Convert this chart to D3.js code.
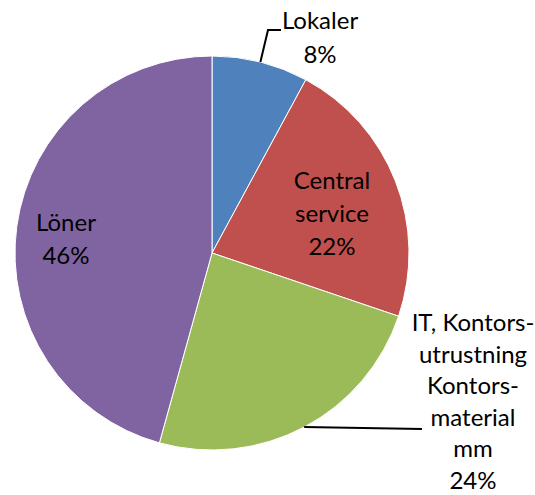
<!DOCTYPE html>
<html>
<head>
<meta charset="utf-8">
<script src="https://cdn.jsdelivr.net/npm/d3@7"></script>
<style>
  html, body { margin: 0; padding: 0; background: #fff; }
  svg { display: block; }
  text { font-family: Lato, "Open Sans", sans-serif; fill: #000; }
</style>
</head>
<body>
<svg id="chart" width="535" height="495"></svg>
<script>
// Data
const categories = ["Lokaler", "Central service", "IT, Kontors-utrustning Kontors-material mm", "Löner"];
const values = [7.9, 22.3, 24.1, 45.7];
const labelLines = [
  ["Lokaler"],
  ["Central", "service"],
  ["IT, Kontors-", "utrustning", "Kontors-", "material", "mm"],
  ["Löner"]
];
const colors = ["#4F81BD", "#C0504D", "#9BBB59", "#8064A2"];

const svg = d3.select("#chart");
const cx = 212, cy = 253, R = 197;
const fontSize = 24;

const pie = d3.pie().sort(null).value(d => d);
const arcs = pie(values);
const arc = d3.arc().innerRadius(0).outerRadius(R);

const g = svg.append("g").attr("transform", `translate(${cx},${cy})`);

g.selectAll("path.slice")
  .data(arcs)
  .join("path")
  .attr("class", "slice")
  .attr("d", arc)
  .attr("fill", (d, i) => colors[i])
  .attr("stroke", "#fff")
  .attr("stroke-width", 1);

const total = d3.sum(values);
const pct = v => Math.round(v / total * 100) + "%";

const placements = [
  { type: "out", tx: 320, ty: 29, lh: 34, leader: [[268, 30], [281, 30]] },
  { type: "in", tx: 332, ty: 189, lh: 33 },
  { type: "out", tx: 473, ty: 331, lh: 31.6, leader: [[422, 429]] },
  { type: "in", tx: 66, ty: 230.5, lh: 33 }
];

arcs.forEach((a, i) => {
  const p = placements[i];
  const lines = labelLines[i].concat([pct(a.value)]);
  if (p.type === "out") {
    const mid = (a.startAngle + a.endAngle) / 2;
    const start = [cx + R * Math.sin(mid), cy - R * Math.cos(mid)];
    const pts = [start].concat(p.leader);
    svg.append("path")
      .attr("d", d3.line()(pts))
      .attr("fill", "none")
      .attr("stroke", "#000")
      .attr("stroke-width", 2);
  }
  const t = svg.append("text")
    .attr("text-anchor", "middle")
    .attr("font-size", fontSize);
  lines.forEach((ln, k) => {
    t.append("tspan")
      .attr("x", p.tx)
      .attr("y", p.ty + k * p.lh)
      .text(ln);
  });
});
</script>
</body>
</html>
